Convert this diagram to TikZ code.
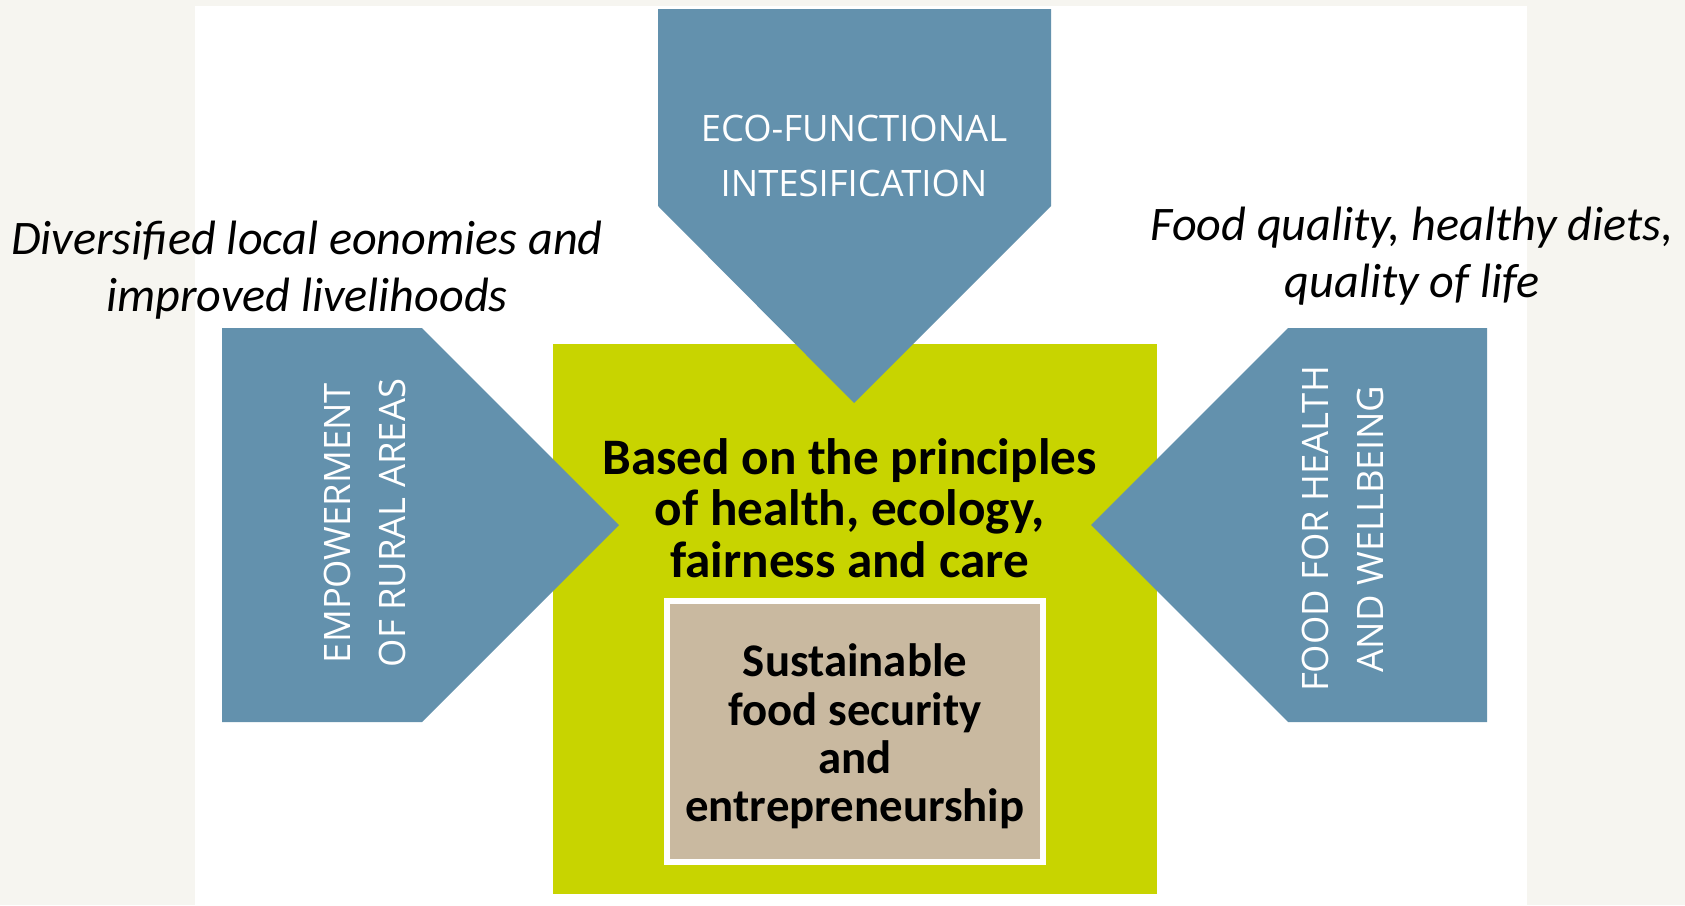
\documentclass[tikz,border=0pt]{standalone}
\usepackage{fontspec}
\setmainfont{Carlito}
\newfontfamily\lblfont{Open Sans}
\definecolor{pageback}{HTML}{F6F5F0}
\definecolor{arrowblue}{HTML}{6391AD}
\definecolor{boxgreen}{HTML}{C8D400}
\definecolor{boxtan}{HTML}{C9B9A0}
\tikzset{
  arrowshape/.style={fill=arrowblue},
  arrowlabel/.style={text=white, align=center, inner sep=0pt, font=\lblfont\fontsize{18.2}{27.5}\selectfont},
  italiclabel/.style={text=black, align=center, inner sep=0pt, font=\itshape\fontsize{24.1}{28.5}\selectfont},
  greenlabel/.style={text=black, align=center, inner sep=0pt, font=\bfseries\fontsize{25.6}{25.8}\selectfont},
  tanlabel/.style={text=black, align=center, inner sep=0pt, font=\bfseries\fontsize{23.4}{24.2}\selectfont},
}
\begin{document}
\begin{tikzpicture}[x=0.5pt, y=-0.5pt]
\useasboundingbox (0,0) rectangle (1685,905);
% backgrounds
\fill[pageback] (0,0) rectangle (1685,905);
\fill[white] (195,6) rectangle (1527,905);
% green box
\fill[boxgreen] (553,344) rectangle (1157,894);
% tan box with white border
\fill[boxtan, draw=white, line width=2.8pt] (667,601) rectangle (1043,862);
% arrows
\fill[arrowshape] (658,9) -- (1051,9) -- (1051,206) -- (854,403) -- (658,206) -- cycle;
\fill[arrowshape] (222,328) -- (422,328) -- (619,525) -- (422,722) -- (222,722) -- cycle;
\fill[arrowshape] (1487,328) -- (1288,328) -- (1091,525) -- (1288,722) -- (1487,722) -- cycle;
% labels
\node[arrowlabel] (eco) at (854,156) {ECO-FUNCTIONAL\\INTESIFICATION};
\node[arrowlabel, rotate=90] (emp) at (364.5,523) {EMPOWERMENT\\OF RURAL AREAS};
\node[arrowlabel, rotate=90] (food) at (1342.5,529) {FOOD FOR HEALTH\\AND WELLBEING};
\node[italiclabel] (div) at (307,270) {Diversified local eonomies and\\improved livelihoods};
\node[italiclabel] (qual) at (1412,256.5) {Food quality, healthy diets,\\quality of life};
\node[greenlabel] (princ) at (849.5,508) {Based on the principles\\of health, ecology,\\fairness and care};
\node[tanlabel] (sust) at (855,736.5) {Sustainable\\food security\\and\\entrepreneurship};
\end{tikzpicture}
\end{document}
